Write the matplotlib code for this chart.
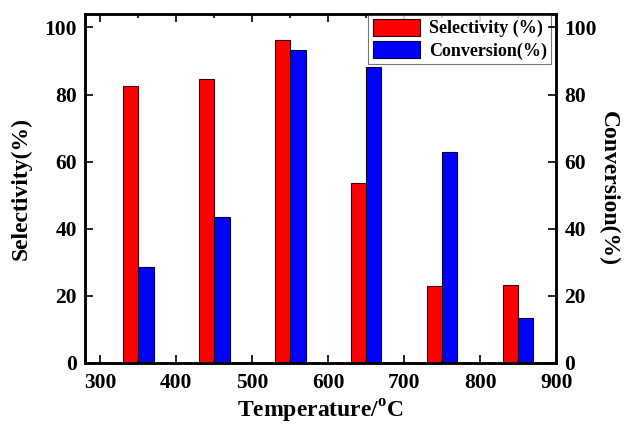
import numpy as np
import matplotlib
matplotlib.use('agg')
import matplotlib.pyplot as plt
from matplotlib.ticker import MultipleLocator, NullLocator

plt.rc('font', family='Liberation Serif', weight='bold')

# Data
temperature = [350, 450, 550, 650, 750, 850]
selectivity = [82.5, 84.5, 96.3, 53.6, 22.8, 23.3]
conversion = [28.6, 43.5, 93.2, 88.1, 62.8, 13.3]

width = 20
fontsize = 17
numbersize = 15.5

fig = plt.figure(figsize=(6.27, 4.25), dpi=100)
ax = fig.add_axes([0.136, 0.146, 0.751, 0.821])
ax2 = ax.twinx()

x = np.array(temperature)
ax.bar(x - width/2, selectivity, width, color='#ff0000', edgecolor='#400000', linewidth=0.8, label='Selectivity (%)')
ax.bar(x + width/2, conversion, width, color='#0000ff', edgecolor='#000040', linewidth=0.8, label='Conversion(%)')

ax.set_xlim(280, 900)
ax.set_ylim(0, 104)
ax2.set_ylim(0, 104)
ax.xaxis.set_major_locator(MultipleLocator(100))
ax.xaxis.set_minor_locator(MultipleLocator(50))
ax.yaxis.set_major_locator(MultipleLocator(20))
ax.yaxis.set_minor_locator(NullLocator())
ax2.yaxis.set_major_locator(MultipleLocator(20))
ax2.yaxis.set_minor_locator(NullLocator())

ax.tick_params(axis='both', which='both', direction='in', top=True, width=1.2, labelsize=numbersize)
ax.tick_params(axis='both', which='major', length=6)
ax.tick_params(axis='both', which='minor', length=3)
ax.tick_params(axis='x', which='major', pad=7)
ax.tick_params(axis='y', which='major', pad=6)
ax.tick_params(axis='y', right=False)
ax2.tick_params(axis='y', which='major', direction='in', width=1.2, labelsize=numbersize, length=6, pad=6)
for a in (ax, ax2):
	for s in a.spines.values():
		s.set_linewidth(1.8)

ax.set_xlabel(r'Temperature/$^{\mathregular{o}}$C', fontsize=fontsize, fontweight='bold', labelpad=4)
ax.set_ylabel('Selectivity(%)', fontsize=fontsize, fontweight='bold', labelpad=9)
ax2.set_ylabel('Conversion(%)', fontsize=fontsize, fontweight='bold', rotation=270, labelpad=16)

leg = ax.legend(loc='upper right', fontsize=13, fancybox=False, edgecolor='#555555',
	bbox_to_anchor=(0.99, 1.0), borderaxespad=0.0, handlelength=2.6, handleheight=1.1,
	borderpad=0.25, labelspacing=0.2, handletextpad=0.5)
leg.get_frame().set_linewidth(0.8)

fig.savefig('out.png', dpi=100)
